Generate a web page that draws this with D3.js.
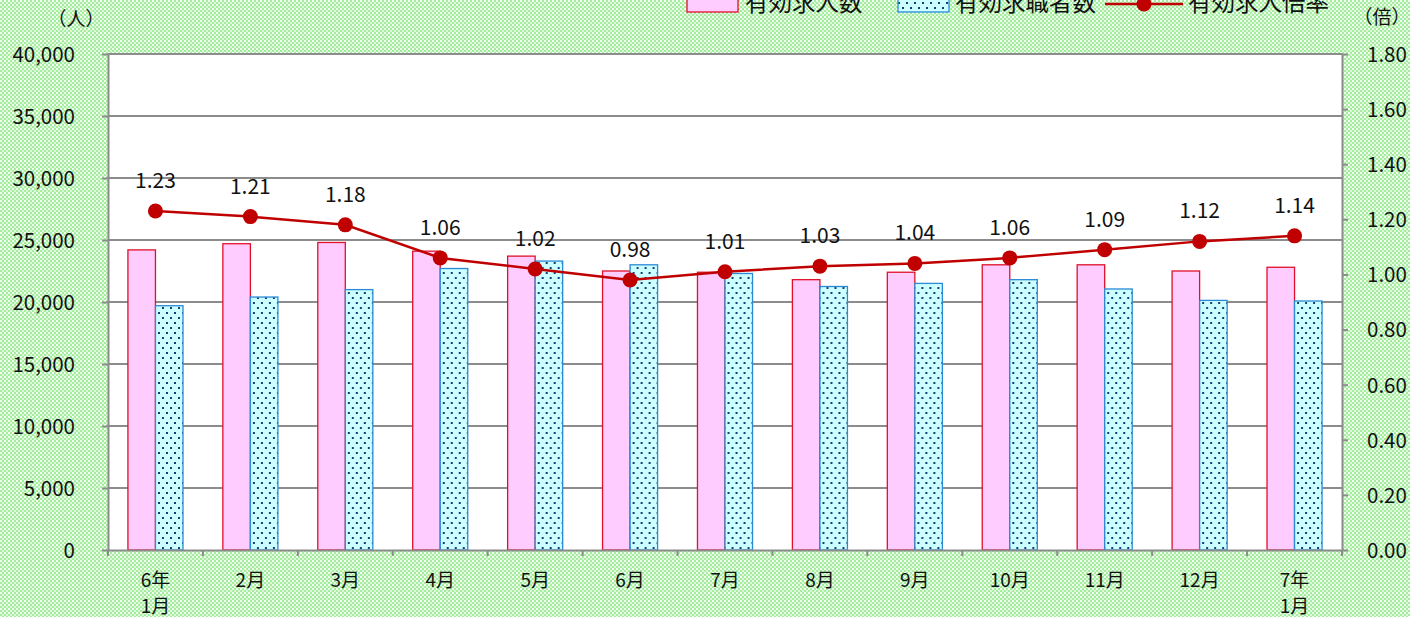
<!DOCTYPE html>
<html>
<head>
<meta charset="utf-8">
<script src="https://cdn.jsdelivr.net/npm/d3@7"></script>
<style>
  body { margin: 0; overflow: hidden; }
  text { font-family: "Noto Sans CJK JP", "Noto Sans", sans-serif; fill: #111; }
</style>
</head>
<body>
<script>
// Chart data
var categories = ["6年\n1月", "2月", "3月", "4月", "5月", "6月", "7月", "8月", "9月", "10月", "11月", "12月", "7年\n1月"];
var offers = [24200, 24700, 24800, 24100, 23700, 22500, 22400, 21800, 22400, 23000, 23000, 22500, 22800];
var seekers = [19700, 20400, 21000, 22700, 23300, 23000, 22300, 21250, 21500, 21800, 21050, 20130, 20080];
var ratio = [1.23, 1.21, 1.18, 1.06, 1.02, 0.98, 1.01, 1.03, 1.04, 1.06, 1.09, 1.12, 1.14];
var seriesNames = ["有効求人数", "有効求職者数", "有効求人倍率"];
var leftTicks = [0, 5000, 10000, 15000, 20000, 25000, 30000, 35000, 40000];
var rightTicks = [0, 0.2, 0.4, 0.6, 0.8, 1.0, 1.2, 1.4, 1.6, 1.8];

var svgWidth = 1410;
var svgHeight = 617;

// Plot area
var plot = { left: 108, right: 1342, top: 54, bottom: 550 };

var svg = d3.select("body")
  .append("svg")
  .attr("width", svgWidth)
  .attr("height", svgHeight);

var defs = svg.append("defs");

// green dotted background
var bg = defs.append("pattern")
  .attr("id", "bgdots")
  .attr("width", 4).attr("height", 4)
  .attr("patternUnits", "userSpaceOnUse");
bg.append("rect").attr("width", 4).attr("height", 4).attr("fill", "#a4ec9e");
bg.append("rect").attr("x", 0).attr("y", 0).attr("width", 2).attr("height", 2).attr("fill", "#f2fff0");
bg.append("rect").attr("x", 2).attr("y", 2).attr("width", 2).attr("height", 2).attr("fill", "#dcf8d8");

// blue bar dots
var dots = defs.append("pattern")
  .attr("id", "bluedots")
  .attr("width", 8).attr("height", 10)
  .attr("patternUnits", "userSpaceOnUse");
dots.append("rect").attr("width", 8).attr("height", 10).attr("fill", "#ccffff");
dots.append("rect").attr("x", 2).attr("y", 2).attr("width", 2).attr("height", 2).attr("fill", "#1a3c78");
dots.append("rect").attr("x", 6).attr("y", 7).attr("width", 2).attr("height", 2).attr("fill", "#1a3c78");

svg.append("rect")
  .attr("width", svgWidth).attr("height", svgHeight)
  .attr("fill", "url(#bgdots)");

svg.append("rect")
  .attr("x", plot.left).attr("y", plot.top)
  .attr("width", plot.right - plot.left).attr("height", plot.bottom - plot.top)
  .attr("fill", "#fff");

// Scales
var xScale = d3.scaleBand()
  .domain(categories)
  .range([plot.left, plot.right])
  .padding(0);
var bw = xScale.bandwidth();
var xSub = d3.scaleBand()
  .domain(["offers", "seekers"])
  .range([bw * 0.21, bw * 0.79]);

var yLeft = d3.scaleLinear().domain([0, 40000]).range([plot.bottom, plot.top]);
var yRight = d3.scaleLinear().domain([0, 1.8]).range([plot.bottom, plot.top]);

// gridlines
svg.append("g")
  .selectAll("line")
  .data(leftTicks.slice(1))
  .enter()
  .append("line")
  .attr("x1", plot.left).attr("x2", plot.right)
  .attr("y1", d => yLeft(d)).attr("y2", d => yLeft(d))
  .attr("stroke", "#8c8c8c").attr("stroke-width", 2);

// left axis
var leftAxis = d3.axisLeft(yLeft)
  .tickValues(leftTicks)
  .tickFormat(d3.format(","))
  .tickSizeInner(6).tickSizeOuter(0).tickPadding(27);
var gl = svg.append("g")
  .attr("transform", `translate(${plot.left}, 0)`)
  .call(leftAxis);

// right axis
var rightAxis = d3.axisRight(yRight)
  .tickValues(rightTicks)
  .tickFormat(d3.format(".2f"))
  .tickSizeInner(6).tickSizeOuter(0).tickPadding(19);
var gr = svg.append("g")
  .attr("transform", `translate(${plot.right}, 0)`)
  .call(rightAxis);

[gl, gr].forEach(function(g) {
  g.select(".domain").attr("stroke", "#8c8c8c").attr("stroke-width", 2);
  g.selectAll(".tick line").attr("stroke", "#8c8c8c").attr("stroke-width", 2);
  g.selectAll(".tick text").style("font-size", "20.5px").attr("fill", "#111").attr("dy", "0.36em");
});

// bars
var groups = svg.append("g")
  .selectAll("g")
  .data(categories)
  .enter()
  .append("g")
  .attr("transform", d => `translate(${xScale(d)}, 0)`);

groups.append("rect")
  .attr("x", xSub("offers"))
  .attr("y", (d, i) => yLeft(offers[i]))
  .attr("width", xSub.bandwidth())
  .attr("height", (d, i) => plot.bottom - yLeft(offers[i]))
  .attr("fill", "#ffccff")
  .attr("stroke", "#e0102a").attr("stroke-width", 1.3);

groups.append("rect")
  .attr("x", xSub("seekers"))
  .attr("y", (d, i) => yLeft(seekers[i]))
  .attr("width", xSub.bandwidth())
  .attr("height", (d, i) => plot.bottom - yLeft(seekers[i]))
  .attr("fill", "url(#bluedots)")
  .attr("stroke", "#2a8ad6").attr("stroke-width", 1.3);

// bottom axis
var bottomAxis = d3.axisBottom(xScale)
  .tickSizeInner(0).tickSizeOuter(0).tickFormat("");
var gb = svg.append("g")
  .attr("transform", `translate(0, ${plot.bottom})`)
  .call(bottomAxis);
gb.select(".domain").attr("stroke", "#8c8c8c").attr("stroke-width", 2);

// category boundary ticks
svg.append("g")
  .selectAll("line")
  .data(categories.concat(["end"]))
  .enter()
  .append("line")
  .attr("x1", (d, i) => plot.left + i * bw).attr("x2", (d, i) => plot.left + i * bw)
  .attr("y1", plot.bottom).attr("y2", plot.bottom + 6)
  .attr("stroke", "#8c8c8c").attr("stroke-width", 2);

// category labels
var labels = svg.append("g")
  .selectAll("text")
  .data(categories)
  .enter()
  .append("text")
  .attr("text-anchor", "middle")
  .style("font-size", "19px");
labels.each(function(d) {
  var t = d3.select(this);
  var cx = xScale(d) + bw / 2;
  d.split("\n").forEach(function(part, j) {
    t.append("tspan").attr("x", cx).attr("y", 587 + j * 26).text(part);
  });
});

// ratio line
var line = d3.line()
  .x((d, i) => xScale(categories[i]) + bw / 2)
  .y(d => yRight(d));
svg.append("path")
  .datum(ratio)
  .attr("d", line)
  .attr("fill", "none")
  .attr("stroke", "#c00000")
  .attr("stroke-width", 2.5);

svg.append("g")
  .selectAll("circle")
  .data(ratio)
  .enter()
  .append("circle")
  .attr("cx", (d, i) => xScale(categories[i]) + bw / 2)
  .attr("cy", d => yRight(d))
  .attr("r", 7.5)
  .attr("fill", "#c00000");

svg.append("g")
  .selectAll("text")
  .data(ratio)
  .enter()
  .append("text")
  .attr("x", (d, i) => xScale(categories[i]) + bw / 2)
  .attr("y", d => yRight(d) - 23)
  .attr("text-anchor", "middle")
  .style("font-size", "21px")
  .text(d => d.toFixed(2));

// unit labels
svg.append("text").attr("x", 76).attr("y", 26).attr("text-anchor", "middle")
  .style("font-size", "19px").text("（人）");
svg.append("text").attr("x", 1382).attr("y", 24).attr("text-anchor", "middle")
  .style("font-size", "19px").text("（倍）");

// legend (partly above the top edge, as in the source image)
var legend = svg.append("g");
legend.append("rect").attr("x", 687).attr("y", -8).attr("width", 51).attr("height", 20)
  .attr("fill", "#ffccff").attr("stroke", "#e0102a").attr("stroke-width", 1.3);
legend.append("text").attr("x", 745).attr("y", 11).style("font-size", "23.5px").text(seriesNames[0]);
legend.append("rect").attr("x", 898).attr("y", -8).attr("width", 51).attr("height", 20)
  .attr("fill", "url(#bluedots)").attr("stroke", "#2a8ad6").attr("stroke-width", 1.3);
legend.append("text").attr("x", 955).attr("y", 11).style("font-size", "23.5px").text(seriesNames[1]);
legend.append("line").attr("x1", 1105).attr("x2", 1183).attr("y1", 4).attr("y2", 4)
  .attr("stroke", "#c00000").attr("stroke-width", 2.5);
legend.append("circle").attr("cx", 1144).attr("cy", 4).attr("r", 7.5).attr("fill", "#c00000");
legend.append("text").attr("x", 1188).attr("y", 11).style("font-size", "23.5px").text(seriesNames[2]);
</script>
</body>
</html>
